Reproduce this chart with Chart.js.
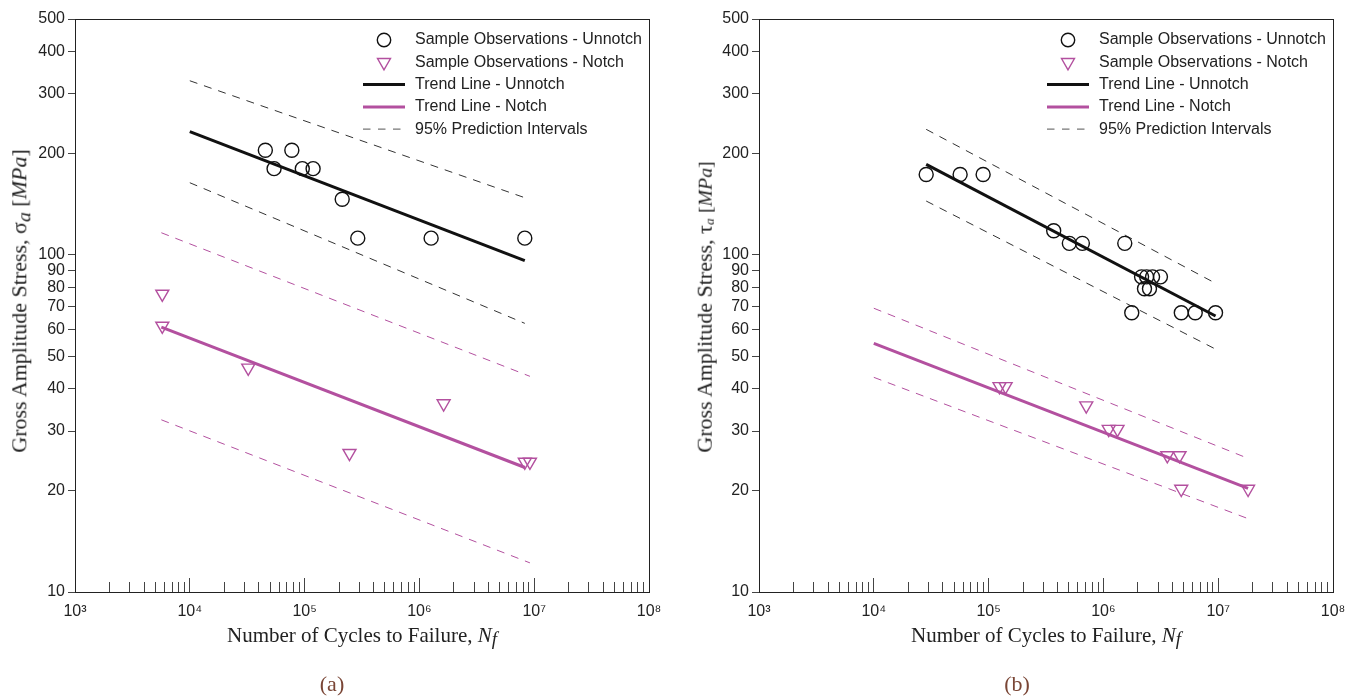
<!DOCTYPE html>
<html>
<head>
<meta charset="utf-8">
<script src="https://cdn.jsdelivr.net/npm/chart.js@4.4.1/dist/chart.umd.min.js"></script>
<style>
  html, body { margin: 0; padding: 0; background: #fff; overflow: hidden; }
  #wrap { position: relative; width: 1359px; height: 696px; }
  canvas { position: absolute; top: 0; }
  .lbl { position: absolute; white-space: nowrap; font-family: "Liberation Serif", "Times New Roman", serif;
         color: #222; font-size: 21px; line-height: 1; transform: translate(-50%, -50%); }
  .rot { transform: translate(-50%, -50%) rotate(-90deg); font-size: 22px; }
  .cap { color: #7a4636; font-size: 22px; }
  .lbl sub { font-size: 90%; vertical-align: -0.18em; }
  .small sub { font-size: 60%; }
</style>
</head>
<body>
<div id="wrap">
  <canvas id="chartA" width="680" height="696" style="left:0"></canvas>
  <canvas id="chartB" width="675" height="696" style="left:684px"></canvas>

  <div class="lbl rot" style="left:21px; top:301px">Gross Amplitude Stress, σ<sub><i>a</i></sub> [<i>MPa</i>]</div>
  <div class="lbl" style="left:362px; top:637px">Number of Cycles to Failure, <i>N</i><sub><i>f</i></sub></div>
  <div class="lbl cap" style="left:332px; top:684px">(a)</div>

  <div class="lbl rot small" style="left:705px; top:307px">Gross Amplitude Stress, τ<sub><i>a</i></sub> <span style="font-size:90%">[<i>MPa</i>]</span></div>
  <div class="lbl" style="left:1046px; top:637px">Number of Cycles to Failure, <i>N</i><sub><i>f</i></sub></div>
  <div class="lbl cap" style="left:1017px; top:684px">(b)</div>
</div>

<script>
// axis ticks
const majorCycles = [1e3, 1e4, 1e5, 1e6, 1e7, 1e8];
const decadeLabels = ['10³', '10⁴', '10⁵', '10⁶', '10⁷', '10⁸'];
const minorSteps = [2, 3, 4, 5, 6, 7, 8, 9];
const stressTicks = [10, 20, 30, 40, 50, 60, 70, 80, 90, 100, 200, 300, 400, 500];

const legendLabels = [
    'Sample Observations - Unnotch',
    'Sample Observations - Notch',
    'Trend Line - Unnotch',
    'Trend Line - Notch',
    '95% Prediction Intervals'
];

// (a) normal stress amplitude
const unnotchCyclesA = [45500, 54200, 77400, 95500, 118600, 212600, 290500, 1265000, 8280000];
const unnotchStressA = [204, 180, 204, 180, 180, 146, 112, 112, 112];
const notchCyclesA = [5760, 5760, 32300, 246000, 1626000, 8280000, 9180000];
const notchStressA = [76.5, 61.5, 46.2, 25.8, 36.2, 24.3, 24.3];

const trendUnnotchCyclesA = [10000, 8280000];
const trendUnnotchStressA = [231.6, 96.0];
const piUnnotchUpperA = [328, 147.6];
const piUnnotchLowerA = [163.5, 62.6];
const trendNotchCyclesA = [5650, 8300000];
const trendNotchStressA = [61, 23.4];
const piNotchCyclesA = [5650, 9180000];
const piNotchUpperA = [116.2, 43.6];
const piNotchLowerA = [32.4, 12.2];

// (b) shear stress amplitude
const unnotchCyclesB = [28600, 56500, 89600, 369000, 505000, 656000, 1535000, 1766000,
    2150000, 2380000, 2680000, 3140000, 2280000, 2520000, 4770000, 6310000, 9480000];
const unnotchStressB = [173, 173, 173, 117.8, 108.1, 108.1, 108.1, 67.3,
    86, 86, 86, 86, 79.3, 79.3, 67.3, 67.3, 67.3];
const notchCyclesB = [124500, 140600, 709000, 1113000, 1327000, 3604000, 4604000, 4763000, 18200000];
const notchStressB = [40.7, 40.7, 35.7, 30.4, 30.4, 25.4, 25.4, 20.2, 20.2];

const trendUnnotchCyclesB = [28600, 9480000];
const trendUnnotchStressB = [185.3, 65.8];
const piUnnotchUpperB = [235.4, 82.3];
const piUnnotchLowerB = [144.3, 52.5];
const trendNotchCyclesB = [10000, 18200000];
const trendNotchStressB = [54.6, 20.3];
const piNotchCyclesB = [10000, 18200000];
const piNotchUpperB = [69.4, 24.9];
const piNotchLowerB = [43.3, 16.5];

const ink = '#111';
const tickInk = '#444';
const pink = '#b3509f';
const tickFont = { family: "'Liberation Sans', Arial, sans-serif", size: 16 };
const dash = [8, 7];

const pairs = (xs, ys) => xs.map((x, i) => ({ x: x, y: ys[i] }));

function lineSet(xs, ys, color, width, dashed, mark) {
    return {
        label: mark ? mark.label : '',
        data: pairs(xs, ys),
        showLine: true,
        borderColor: color,
        borderWidth: width,
        borderDash: dashed ? dash : [],
        pointRadius: 0,
        legendMark: mark
    };
}

function buildDatasets(p) {
    return [
        {
            label: legendLabels[0],
            data: pairs(p.uc, p.us),
            pointStyle: 'circle',
            pointRadius: 7,
            pointBorderWidth: 1.4,
            pointBorderColor: ink,
            pointBackgroundColor: 'rgba(0,0,0,0)',
            legendMark: { type: 'circle', color: ink, radius: 6.7, width: 1.4 }
        },
        {
            label: legendLabels[1],
            data: pairs(p.nc, p.ns),
            pointStyle: 'triangle',
            pointRotation: 180,
            pointRadius: 7.5,
            pointBorderWidth: 1.4,
            pointBorderColor: pink,
            pointBackgroundColor: 'rgba(0,0,0,0)',
            legendMark: { type: 'triangle', color: pink, radius: 7.5, width: 1.4, rotation: 180 }
        },
        lineSet(p.tuc, p.tus, ink, 3, false, { type: 'line', label: legendLabels[2], color: ink, width: 3 }),
        lineSet(p.tnc, p.tns, pink, 3, false, { type: 'line', label: legendLabels[3], color: pink, width: 3 }),
        lineSet(p.tuc, p.puu, '#333', 1, true, { type: 'line', label: legendLabels[4], color: '#777', width: 1.3, dash: [7.5, 7.5] }),
        lineSet(p.tuc, p.pul, '#333', 1, true, null),
        lineSet(p.pnc, p.pnu, pink, 1, true, null),
        lineSet(p.pnc, p.pnl, pink, 1, true, null)
    ];
}

// box round the plot area
const frame = {
    id: 'frame',
    afterDraw(chart) {
        const { ctx, chartArea: a } = chart;
        ctx.save();
        ctx.strokeStyle = '#222';
        ctx.lineWidth = 1;
        ctx.strokeRect(Math.round(a.left) + 0.5, Math.round(a.top) + 0.5,
            Math.round(a.width), Math.round(a.height));
        ctx.restore();
    }
};

// legend sits inside the plot, top right
const insideLegend = {
    id: 'insideLegend',
    afterDatasetsDraw(chart) {
        const { ctx, chartArea } = chart;
        const x0 = chartArea.left + 288;
        let y = chartArea.top + 21;
        ctx.save();
        ctx.font = "16px 'Liberation Sans', Arial, sans-serif";
        ctx.textBaseline = 'middle';
        chart.data.datasets.forEach(ds => {
            const m = ds.legendMark;
            if (!m) return;
            ctx.strokeStyle = m.color;
            ctx.lineWidth = m.width;
            if (m.type === 'line') {
                ctx.setLineDash(m.dash || []);
                ctx.beginPath();
                ctx.moveTo(x0, y);
                ctx.lineTo(x0 + 42, y);
                ctx.stroke();
                ctx.setLineDash([]);
            } else {
                ctx.fillStyle = 'rgba(0,0,0,0)';
                Chart.helpers.drawPoint(ctx, {
                    pointStyle: m.type, radius: m.radius, rotation: m.rotation || 0, borderWidth: m.width
                }, x0 + 21, y);
            }
            ctx.fillStyle = '#222';
            ctx.fillText(ds.label, x0 + 52, y);
            y += 22.3;
        });
        ctx.restore();
    }
};

function makeChart(id, datasets, padRight) {
    return new Chart(document.getElementById(id), {
        type: 'scatter',
        data: { datasets: datasets },
        options: {
            responsive: false,
            animation: false,
            events: [],
            layout: { padding: { top: 19, right: padRight, left: 0, bottom: 0 } },
            plugins: { legend: { display: false }, tooltip: { enabled: false } },
            scales: {
                x: {
                    type: 'logarithmic',
                    position: 'bottom',
                    min: 1e3,
                    max: 1e8,
                    weight: 1,
                    afterBuildTicks: s => { s.ticks = majorCycles.map(v => ({ value: v })); },
                    afterFit: s => { s.height = 104; },
                    border: { display: true, color: ink, width: 1 },
                    grid: { drawOnChartArea: false, tickLength: -14, tickColor: tickInk },
                    ticks: {
                        autoSkip: false,
                        maxRotation: 0,
                        padding: 8,
                        color: '#222',
                        font: { family: tickFont.family, size: 16, lineHeight: 3.25 },
                        callback: v => decadeLabels[majorCycles.indexOf(v)]
                    }
                },
                xMinor: {
                    type: 'logarithmic',
                    position: 'bottom',
                    min: 1e3,
                    max: 1e8,
                    weight: 0,
                    afterBuildTicks: s => {
                        s.ticks = majorCycles.slice(0, -1)
                            .flatMap(d => minorSteps.map(k => ({ value: k * d })));
                    },
                    afterFit: s => { s.height = 0; },
                    border: { display: false },
                    grid: { drawOnChartArea: false, tickLength: -10, tickColor: tickInk },
                    ticks: { display: false, autoSkip: false, padding: 0 }
                },
                y: {
                    type: 'logarithmic',
                    position: 'left',
                    min: 10,
                    max: 500,
                    afterBuildTicks: s => { s.ticks = stressTicks.map(v => ({ value: v })); },
                    afterFit: s => { s.width = 75; },
                    border: { display: true, color: ink, width: 1 },
                    grid: { drawOnChartArea: false, tickLength: 7, tickColor: tickInk },
                    ticks: {
                        autoSkip: false,
                        padding: 3,
                        color: '#222',
                        font: tickFont,
                        callback: v => String(v)
                    }
                }
            }
        },
        plugins: [frame, insideLegend]
    });
}

makeChart('chartA', buildDatasets({
    uc: unnotchCyclesA, us: unnotchStressA, nc: notchCyclesA, ns: notchStressA,
    tuc: trendUnnotchCyclesA, tus: trendUnnotchStressA, puu: piUnnotchUpperA, pul: piUnnotchLowerA,
    tnc: trendNotchCyclesA, tns: trendNotchStressA, pnc: piNotchCyclesA, pnu: piNotchUpperA, pnl: piNotchLowerA
}), 31);

makeChart('chartB', buildDatasets({
    uc: unnotchCyclesB, us: unnotchStressB, nc: notchCyclesB, ns: notchStressB,
    tuc: trendUnnotchCyclesB, tus: trendUnnotchStressB, puu: piUnnotchUpperB, pul: piUnnotchLowerB,
    tnc: trendNotchCyclesB, tns: trendNotchStressB, pnc: piNotchCyclesB, pnu: piNotchUpperB, pnl: piNotchLowerB
}), 26);
</script>
</body>
</html>
